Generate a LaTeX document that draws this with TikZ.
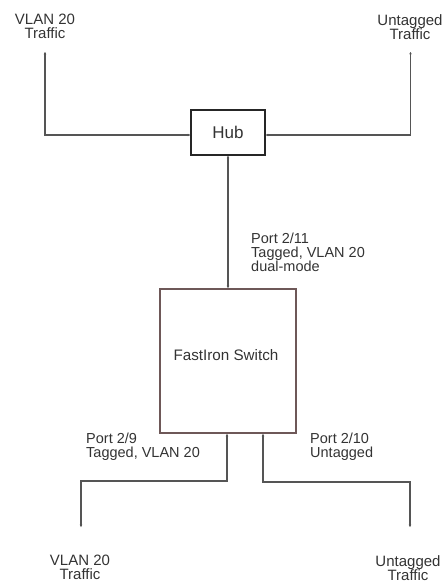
\documentclass[tikz,border=0pt]{standalone}
\usepackage{fontspec}
\setmainfont{Liberation Sans}
\usetikzlibrary{arrows.meta}
\definecolor{linegray}{HTML}{555555}
\definecolor{boxbrown}{HTML}{6E5858}
\definecolor{txt}{HTML}{333333}
\begin{document}
\begin{tikzpicture}[x=1pt,y=-1pt,
  conn/.style={draw=linegray,line width=1.6pt,{Stealth[length=2.4pt,width=2.6pt]}-{Stealth[length=2.4pt,width=2.6pt]}},
  lbl/.style={text=txt,inner sep=0pt,anchor=north,align=center,font=\fontsize{15}{14}\selectfont},
  portlbl/.style={text=txt,inner sep=0pt,anchor=north west,align=left,font=\fontsize{14.5}{14}\selectfont},
  hubbox/.style={draw=black!85,line width=1.5pt,minimum width=74pt,minimum height=45pt,inner sep=0pt,text=txt,font=\fontsize{17}{17}\selectfont},
  swbox/.style={draw=boxbrown,line width=1.7pt,minimum width=136pt,minimum height=144pt,inner sep=0pt}
]
\useasboundingbox (0,0) rectangle (443,585);
% labels
\node[lbl] (tl) at (45,14) {VLAN 20\\Traffic};
\node[lbl] (tr) at (410,14) {Untagged\\Traffic};
\node[lbl] (bl) at (80,555) {VLAN 20\\Traffic};
\node[lbl] (br) at (408,555) {Untagged\\Traffic};
% boxes
\node[hubbox] (hub) at (228,132.5) {Hub};
\node[swbox] (sw) at (228,361) {};
\node[text=txt,inner sep=0pt,font=\fontsize{15.2}{15}\selectfont] (swt) at (226,355) {FastIron Switch};
% port labels
\node[portlbl] (p11) at (251,233) {Port 2/11\\Tagged, VLAN 20\\dual-mode};
\node[portlbl] (p9) at (86,433) {Port 2/9\\Tagged, VLAN 20};
\node[portlbl] (p10) at (310,433) {Port 2/10\\Untagged};
% free ends
\coordinate (tlend) at (45,52);
\coordinate (trend) at (410.5,52);
\coordinate (blend) at (81,527);
\coordinate (brend) at (410,527);
% connectors
\draw[conn] (tlend) |- (hub.west |- 0,135);
\draw[conn] (trend) |- (hub.east |- 0,135);
\draw[conn] (hub.south) -- (sw.north);
\draw[conn] (sw.south -| 227,0) -- ++(0,47) -| (blend);
\draw[conn] (sw.south -| 263,0) -- ++(0,48) -| (brend);
\end{tikzpicture}
\end{document}
